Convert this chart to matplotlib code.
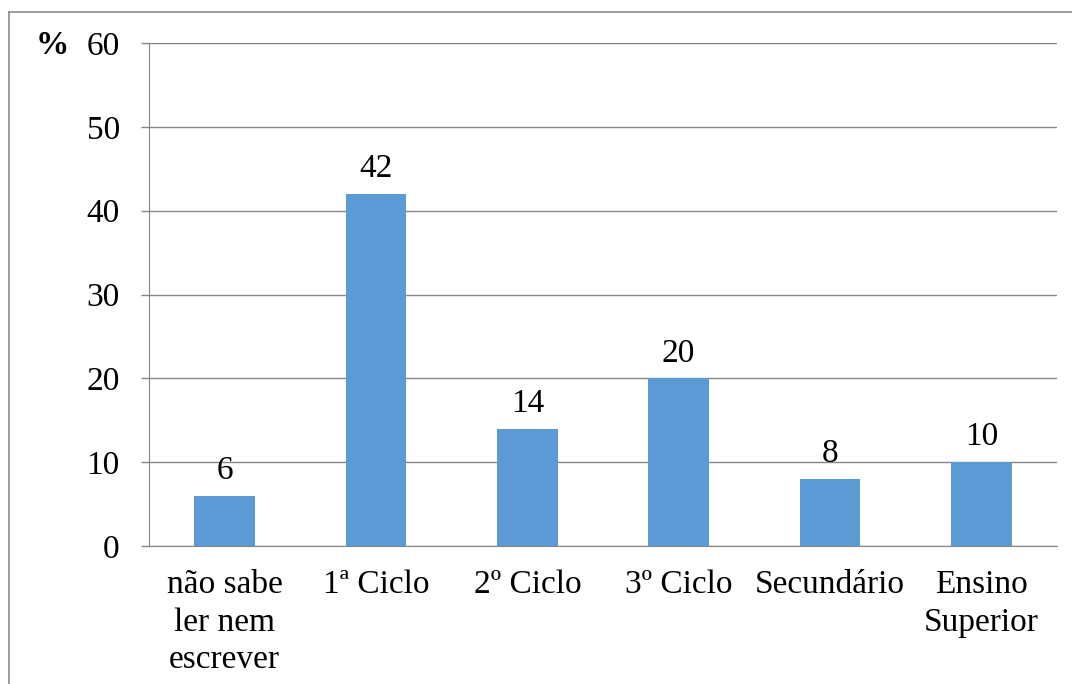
import matplotlib
matplotlib.use("Agg")
import matplotlib.pyplot as plt
from matplotlib.lines import Line2D

categories = ["não sabe\nler nem\nescrever", "1ª Ciclo", "2º Ciclo", "3º Ciclo", "Secundário", "Ensino\nSuperior"]
values = [6, 42, 14, 20, 8, 10]
yticks = [0, 10, 20, 30, 40, 50, 60]

plt.rcParams['font.family'] = ['Liberation Serif', 'DejaVu Serif']
FS = 24

fig = plt.figure(figsize=(10.72, 6.84), dpi=100)
W, H = 1072, 684
ax = fig.add_axes([149 / W, 1 - 546 / H, (1057 - 149) / W, (546 - 43) / H])

x = list(range(len(categories)))
bars = ax.bar(x, values, width=0.4, color="#5B9BD5", zorder=3)
for xi, v in zip(x, values):
    ax.annotate(str(v), (xi, v), xytext=(0, 7), textcoords="offset points",
                ha="center", va="bottom", fontsize=FS)

ax.set_xlim(-0.5, len(categories) - 0.5)
ax.set_ylim(0, 60)
ax.set_yticks(yticks)
ax.set_yticklabels([str(t) for t in yticks], fontsize=FS)
ax.set_xticks(x)
ax.set_xticklabels(categories, fontsize=FS, linespacing=1.3)
ax.tick_params(axis="x", length=0, pad=17)
ax.tick_params(axis="y", length=6, width=1, color="#868686", pad=15)
ax.yaxis.grid(True, color="#868686", linewidth=1, zorder=0)
for s in ["top", "right"]:
    ax.spines[s].set_visible(False)
ax.spines["left"].set_color("#868686")
ax.spines["bottom"].set_color("#868686")

fig.text(52 / W, 1 - 45 / H, "%", fontsize=FS, fontweight="bold", ha="center", va="center")

# outer frame lines
fig.add_artist(Line2D([9 / W, 9 / W], [0, 1 - 12 / H], color="#8c8c8c", linewidth=1.2, transform=fig.transFigure))
fig.add_artist(Line2D([9 / W, 1], [1 - 12 / H, 1 - 12 / H], color="#8c8c8c", linewidth=1.2, transform=fig.transFigure))

fig.savefig("out.png", dpi=100)
